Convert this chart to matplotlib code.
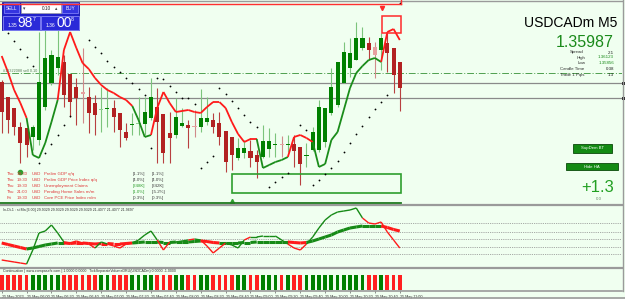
import numpy as np
import matplotlib
matplotlib.use('Agg')
import matplotlib.pyplot as plt
from matplotlib.patches import Rectangle
from matplotlib.collections import LineCollection

plt.rcParams['font.family'] = ['Liberation Sans', 'DejaVu Sans']

# ---------------- data ----------------
open_ = [1.35993, 1.35978, 1.35967, 1.35948, 1.35947, 1.35938, 1.35935, 1.35968, 1.35992, 1.36007,
         1.36013, 1.36001, 1.35988, 1.35983, 1.35978, 1.35972, 1.35965, 1.35966, 1.35967, 1.35962,
         1.35943, 1.35950, 1.35951, 1.35951, 1.35957, 1.35968, 1.35961, 1.35942, 1.35940, 1.35949,
         1.35950, 1.35949, 1.35948, 1.35953, 1.35955, 1.35952, 1.35944, 1.35938, 1.35917, 1.35922,
         1.35924, 1.35920, 1.35918, 1.35926, 1.35930, 1.35931, 1.35930, 1.35931, 1.35928, 1.35919,
         1.35925, 1.35925, 1.35933, 1.35962, 1.35970, 1.35992, 1.36007, 1.36015, 1.36027, 1.36032,
         1.36028, 1.36025, 1.36032, 1.36027, 1.36013]
high = [1.35995, 1.35978, 1.35967, 1.35953, 1.35947, 1.35950, 1.36043, 1.36045, 1.36025, 1.36045,
        1.36020, 1.36001, 1.35997, 1.36027, 1.35988, 1.35980, 1.35988, 1.35987, 1.35975, 1.35962,
        1.35952, 1.35962, 1.35978, 1.35978, 1.35997, 1.35987, 1.35961, 1.35963, 1.35977, 1.35967,
        1.35955, 1.35965, 1.35986, 1.35978, 1.35962, 1.35963, 1.35944, 1.35938, 1.35937, 1.35935,
        1.35935, 1.35925, 1.35950, 1.35947, 1.35942, 1.35939, 1.35940, 1.35940, 1.35928, 1.35932,
        1.35948, 1.35975, 1.35967, 1.36007, 1.36013, 1.36033, 1.36037, 1.36053, 1.36048, 1.36038,
        1.36033, 1.36042, 1.36042, 1.36027, 1.36013]
low = [1.35942, 1.35942, 1.35940, 1.35912, 1.35918, 1.35925, 1.35930, 1.35965, 1.35990, 1.36000,
       1.35968, 1.35958, 1.35950, 1.35952, 1.35942, 1.35940, 1.35943, 1.35948, 1.35943, 1.35928,
       1.35935, 1.35940, 1.35940, 1.35940, 1.35955, 1.35912, 1.35912, 1.35912, 1.35937, 1.35948,
       1.35927, 1.35938, 1.35943, 1.35950, 1.35942, 1.35930, 1.35903, 1.35905, 1.35915, 1.35917,
       1.35908, 1.35897, 1.35917, 1.35918, 1.35918, 1.35918, 1.35923, 1.35908, 1.35890, 1.35908,
       1.35924, 1.35923, 1.35928, 1.35960, 1.35968, 1.35992, 1.35998, 1.36015, 1.36025, 1.36015,
       1.35997, 1.36005, 1.36003, 1.35982, 1.35964]
close = [1.35963, 1.35955, 1.35948, 1.35932, 1.35930, 1.35948, 1.35993, 1.36017, 1.36020, 1.36018,
         1.35980, 1.35973, 1.35977, 1.35981, 1.35962, 1.35960, 1.35966, 1.35967, 1.35958, 1.35945,
         1.35937, 1.35951, 1.35952, 1.35963, 1.35978, 1.35953, 1.35922, 1.35937, 1.35958, 1.35952,
         1.35947, 1.35948, 1.35957, 1.35957, 1.35948, 1.35938, 1.35913, 1.35920, 1.35927, 1.35927,
         1.35917, 1.35913, 1.35934, 1.35934, 1.35931, 1.35930, 1.35931, 1.35924, 1.35911, 1.35920,
         1.35943, 1.35968, 1.35967, 1.35988, 1.36013, 1.36023, 1.36022, 1.36037, 1.36037, 1.36025,
         1.36020, 1.36037, 1.36022, 1.36000, 1.35987]
pale_candles = [13, 16, 22, 31, 45, 60]

ma_line = [1.36019, 1.36003, 1.35985, 1.35972, 1.35957, 1.35920, 1.35917, 1.35932, 1.35953, 1.35975,
           1.36025, 1.36043, 1.36027, 1.36012, 1.36006, 1.35997, 1.35990, 1.35985, 1.35982, 1.35978,
           1.35975, 1.35969, 1.35955, 1.35938, 1.35940, 1.35967, 1.35983, 1.35972, 1.35963, 1.35964,
           1.35965, 1.35963, 1.35962, 1.35968, 1.35973, 1.35973, 1.35967, 1.35953, 1.35941, 1.35933,
           1.35936, 1.35936, 1.35907, 1.35910, 1.35913, 1.35915, 1.35918, 1.35938, 1.35940, 1.35937,
           1.35933, 1.35908, 1.35911, 1.35935, 1.35943, 1.35965, 1.35987, 1.36002, 1.36009, 1.36015,
           1.36017, 1.36013, 1.36043, 1.36046, 1.36035]
ma_trend = "R" * 4 + "G" * 5 + "R" * 12 + "G" * 3 + "R" * 17 + "G" * 5 + "R" * 4 + "G" * 11 + "R" * 3

N = None
sar = [N, 1.36042, 1.36034, 1.36026, 1.36018, 1.36009, 1.35912, 1.35922, 1.35931, 1.35940,
       1.35950, 1.35959, N, N, 1.36035, 1.36028, 1.36022, 1.36014, 1.36008, 1.36003,
       1.35997, 1.35992, 1.35986, 1.35980, 1.35927, 1.35997, 1.35996, 1.35989, 1.35983, 1.35977,
       1.35977, 1.35971, 1.35907, 1.35913, 1.35919, 1.35987, 1.35981, 1.35974, 1.35967, 1.35960,
       1.35953, 1.35948, N, 1.35888, 1.35893, 1.35898, 1.35902, N, 1.35950, 1.35945,
       1.35890, 1.35895, 1.35901, 1.35907, 1.35914, 1.35923, 1.35932, 1.35941, 1.35949, 1.35958,
       1.35966, 1.35973, 1.35980, N, 1.36072]

ind_thin = [7, 6, 5, 4, 3, 17, 34, 36, 42, 34, 25, 24, 26, 24, 23, 19, 25, 23, 21, 19,
            23, 24, 27, 32, 36, 27, 17, 25, 25, 26, 27, 28, 27, 21, 14, 19, 24, 22, 19, 27,
            30, 30, 31, 31, 31, 27, 23, 19, 17, 23, 30, 39, 47, 52, 55, 56, 57, 59, 49, 44,
            43, 45, 35, 27, 19]
thin_trend = ("R" * 4 + "G" * 6 + "R" * 5 + "G" * 2 + "R" * 4 + "G" * 4 + "R" * 2 + "G" * 3 + "R" +
              "G" + "R" * 4 + "G" * 3 + "R" + "G" * 6 + "R" * 3 + "G" * 9 + "R" * 6)
ind_thick = [24, 22.5, 21, 19.5, 18, 19, 20.5, 22, 23, 24, 24, 23.5, 24, 24, 23.5, 23, 23.5, 23.5, 23, 23,
             23.5, 24, 24.5, 25, 25, 25, 24.5, 24.5, 25, 25, 25, 25.5, 26, 25.5, 24.5, 24, 24, 24, 24, 24.5,
             24.5, 25, 25, 25, 25, 25, 25, 24.5, 24, 24.5, 26, 28, 30, 32, 35, 37, 39, 40, 41, 41,
             41, 41, 39.5, 37.5, 36]
thick_trend = "R" * 4 + "G" * 6 + "R" * 11 + "G" * 11 + "R" * 3 + "G" * 11 + "R" * 3 + "G" * 12 + "R" * 3
ind_levels = [44, 35, 28, 20, 13]

volume = [1] * 65

tick_idx = list(range(0, 65, 4))
tick_labels = ["25 May 2023", "25 May 06:00", "25 May 06:20", "25 May 06:40", "25 May 07:00",
               "25 May 07:20", "25 May 07:40", "25 May 08:00", "25 May 08:20", "25 May 08:40",
               "25 May 09:00", "25 May 09:20", "25 May 09:40", "25 May 10:00", "25 May 10:20",
               "25 May 10:40", "25 May 11:00"]

level_order = 1.36002
level_grey = [1.35992, 1.35977]
zone_demand = (37.0, 64.2, 1.35882, 1.35901)
zone_supply = (61.1, 64.2, 1.36042, 1.36059)

news_day = ["Thu", "Thu", "Thu", "Thu", "Fri"]
news_time = ["19:30", "19:30", "19:30", "21:00", "19:30"]
news_event = ["Prelim GDP q/q", "Prelim GDP Price Index q/q", "Unemployment Claims",
              "Pending Home Sales m/m", "Core PCE Price Index m/m"]
news_actual = ["[1.1%]", "[4.0%]", "[248K]", "[1.0%]", "[0.3%]"]
news_prev = ["[1.1%]", "[4.0%]", "[242K]", "[-5.2%]", "[0.3%]"]
news_actual_good = [False, False, True, True, False]

# ---------------- figure ----------------
W, H = 625, 299
BG = '#f0fff0'
fig = plt.figure(figsize=(W / 100, H / 100), dpi=100)
fig.patch.set_facecolor(BG)

X0, DX, XR = 1.7, 6.22, 622
xlim = (-X0 / DX, (XR - X0) / DX)
n = len(open_)
xs = np.arange(n)


def fx(x):
    return x / W


def fy(y):
    return 1 - y / H


GREEN, RED = '#008000', '#b22222'

# main price panel
ax = fig.add_axes([0, fy(204), fx(XR), 204 / H])
ax.set_facecolor(BG)
ax.set_xlim(*xlim)
ax.set_ylim(1.35871, 1.36075)
ax.axis('off')

ax.axhline(level_order, color='#50a050', lw=0.7, ls=(0, (7, 2, 1, 2)), zorder=1)
for lv in level_grey:
    ax.axhline(lv, color='#8a8a8a', lw=0.9, zorder=1)

for i in range(n):
    o, h, l, c = open_[i], high[i], low[i], close[i]
    up = c >= o
    pale = i in pale_candles
    if up:
        body = '#8fd08f' if pale else GREEN
        wick = '#7cc47c'
    else:
        body = '#e6a0a0' if pale else RED
        wick = '#d08a8a' if pale else '#b84040'
    ax.vlines(i, l, h, color=wick, lw=0.8, zorder=2)
    hgt = c - o
    if abs(hgt) < 1.2e-5:
        hgt = 1.2e-5 if up else -1.2e-5
    ax.bar(i, hgt, bottom=o, width=0.66, color=body, lw=0, zorder=3)

segs, cols = [], []
for j in range(n - 1):
    segs.append([(j, ma_line[j]), (j + 1, ma_line[j + 1])])
    cols.append('#ff1a1a' if ma_trend[j] == 'R' else '#1a8c1a')
ax.add_collection(LineCollection(segs, colors=cols, linewidths=1.3, zorder=4))

sx = [i for i in range(n) if sar[i] is not None]
sy = [sar[i] for i in sx]
ax.plot(sx, sy, 'o', ms=1.3, color='black', mew=0, zorder=5)

dz = zone_demand
ax.add_patch(Rectangle((dz[0], dz[2]), dz[1] - dz[0], dz[3] - dz[2], fill=False,
                       ec='#2e9e2e', lw=1.2, zorder=4))
sz = zone_supply
ax.add_patch(Rectangle((sz[0], sz[2]), sz[1] - sz[0], sz[3] - sz[2], fill=False,
                       ec='#ff2a2a', lw=1.1, zorder=4))
ax.plot([sz[0]], [1.36067], marker='v', ms=3, color='#ff2a2a', zorder=5)
ax.plot([dz[0]], [1.35874], marker='^', ms=3, color='#2e9e2e', zorder=5)
ax.plot([3], [1.35903], marker='o', ms=3, color='#2e9e2e', zorder=5)

# indicator panel
ax2 = fig.add_axes([0, fy(267), fx(XR), 62 / H])
ax2.set_facecolor(BG)
ax2.set_xlim(*xlim)
ax2.set_ylim(0, 62)
ax2.axis('off')
for lv in ind_levels:
    ax2.axhline(lv, color='#8c8c8c', lw=0.6, ls=(0, (1, 1.2)))
segs, cols = [], []
for j in range(n - 1):
    segs.append([(j, ind_thick[j]), (j + 1, ind_thick[j + 1])])
    cols.append('#ff1a1a' if thick_trend[j] == 'R' else '#168a16')
ax2.add_collection(LineCollection(segs, colors=cols, linewidths=2.2))
segs, cols = [], []
for j in range(n - 1):
    segs.append([(j, ind_thin[j]), (j + 1, ind_thin[j + 1])])
    cols.append('#ff1a1a' if thin_trend[j] == 'R' else '#168a16')
ax2.add_collection(LineCollection(segs, colors=cols, linewidths=1.0))

# volume panel
ax3 = fig.add_axes([0, fy(290), fx(XR), 22 / H])
ax3.set_facecolor(BG)
ax3.set_xlim(*xlim)
ax3.set_ylim(0, 1.47)
vcol = ['#008000' if close[i] >= open_[i] else '#ff2020' for i in range(n)]
ax3.bar(xs, volume, width=0.6, color=vcol, lw=0)
for s in ax3.spines.values():
    s.set_visible(False)
ax3.set_yticks([])
ax3.set_xticks(tick_idx)
ax3.set_xticklabels(tick_labels, fontsize=2.7, color='#303030')
ax3.tick_params(axis='x', length=2, width=0.5, color='#606060', pad=1.5)
for lbl in ax3.get_xticklabels():
    lbl.set_ha('left')

# ---------------- overlay decorations ----------------
ov = fig.add_axes([0, 0, 1, 1])
ov.set_xlim(0, W)
ov.set_ylim(H, 0)
ov.axis('off')
ov.patch.set_alpha(0)

grey = '#9a9a9a'
ov.plot([0, XR], [1, 1], color=grey, lw=1)
ov.plot([0, 401], [4, 4], color='#ff3030', lw=1)
ov.plot([401, 401], [0, 4], color='#ff3030', lw=1)
ov.plot([0, XR], [204.8, 204.8], color=grey, lw=1.6)
ov.plot([0, 401], [203.3, 203.3], color='#1f7a1f', lw=1.3)
ov.plot([0, XR], [267.5, 267.5], color=grey, lw=1.6)
ov.plot([0, XR], [290.5, 290.5], color=grey, lw=1.2)
ov.plot([0, W], [298, 298], color=grey, lw=1.2)
ov.plot([XR + 0.5, XR + 0.5], [0, 290.5], color=grey, lw=1)
for yy in (83, 98):
    ov.add_patch(Rectangle((622, yy - 1.5), 3, 3, color='#202020', lw=0))

# trade panel
ov.add_patch(Rectangle((2, 2), 77, 28, fc='#2020c8', ec='#1010a0', lw=0.6))
ov.add_patch(Rectangle((3.5, 3), 15.5, 10, fc='#3535e0', ec='#8c8cff', lw=0.5))
ov.text(11.2, 8.2, 'SELL', color='white', fontsize=3.4, ha='center', va='center')
ov.add_patch(Rectangle((20.5, 3), 40, 10, fc='white', ec='#a0a0a0', lw=0.5))
ov.text(24, 8.2, '▾', color='#404040', fontsize=3.4, ha='center', va='center',
        family=['DejaVu Sans'])
ov.text(50.5, 8.2, '0.10', color='#202020', fontsize=3.4, ha='right', va='center')
ov.text(56.5, 8.2, '▴', color='#404040', fontsize=3.4, ha='center', va='center',
        family=['DejaVu Sans'])
ov.add_patch(Rectangle((62, 3), 16, 10, fc='#3535e0', ec='#8c8cff', lw=0.5))
ov.text(70, 8.2, 'BUY', color='white', fontsize=3.4, ha='center', va='center')
ov.add_patch(Rectangle((3, 15.5), 36.5, 14, fc='#2a2ad8', ec='#9a9aff', lw=0.5))
ov.add_patch(Rectangle((41, 15.5), 37.5, 14, fc='#2a2ad8', ec='#9a9aff', lw=0.5))
ov.text(12.5, 25.5, '1.35', color='white', fontsize=3.6, ha='center', va='center')
ov.text(25.5, 23.3, '98', color='white', fontsize=10, ha='center', va='center')
ov.text(34, 19.2, '7', color='white', fontsize=3.8, ha='center', va='center')
ov.text(50.5, 25.5, '1.36', color='white', fontsize=3.6, ha='center', va='center')
ov.text(64, 23.3, '00', color='white', fontsize=10, ha='center', va='center')
ov.text(72.5, 19.2, '8', color='white', fontsize=3.8, ha='center', va='center')

ov.text(3, 70.8, '#12322088 sell 0.10', color='#5a7a5a', fontsize=2.7, va='center')

# symbol info (right)
ov.text(617, 23, 'USDCADm M5', color='black', fontsize=10, ha='right', va='center')
ov.text(613.5, 42.5, '1.35987', color='#1a8a1a', fontsize=11.5, ha='right', va='center')
info = [('Spread', '2.1', 52.5, '#202020'), ('High', '1.36123', 57.5, '#1a8a1a'),
        ('Low', '1.35856', 63, '#1a8a1a'), ('Candle Time', '0:38', 69, '#202020'),
        ('Trade 1 Pips', '1.3', 75, '#202020')]
for lab, val, yy, vc in info:
    if lab in ('High', 'Low'):
        ov.text(585.5, yy, lab, color='#303030', fontsize=3.2, ha='right', va='center')
    else:
        ov.text(584, yy, lab, color='#303030', fontsize=3.2, ha='right', va='center')
    ov.text(614, yy, val, color=vc, fontsize=3.2, ha='right', va='center')

ov.add_patch(Rectangle((573, 144), 39, 8.5, fc='#128a12', ec='#0a4a0a', lw=0.6))
ov.text(592.5, 148.3, 'SupDem BT', color='white', fontsize=3.1, ha='center', va='center')
ov.add_patch(Rectangle((566, 163), 52, 7, fc='#128a12', ec='#0a4a0a', lw=0.6))
ov.text(592, 166.5, 'Hide HA', color='white', fontsize=3.1, ha='center', va='center')
ov.text(613.5, 188, '+1.3', color='#22a022', fontsize=12, ha='right', va='center')
ov.text(598.5, 199.5, '0.0', color='#6a8a6a', fontsize=3.2, ha='center', va='center')

# news
rows_y = [174, 180, 186, 192, 198]
for k, yy in enumerate(rows_y):
    ov.text(7, yy, news_day[k], color='#e03a3a', fontsize=3.2, va='center')
    ov.text(17, yy, news_time[k], color='#e03a3a', fontsize=3.2, va='center')
    ov.text(32, yy, 'USD', color='#e03a3a', fontsize=3.2, va='center')
    ov.text(44, yy, news_event[k], color='#e03a3a', fontsize=3.2, va='center')
    ov.text(133, yy, news_actual[k], color='#2e9e2e' if news_actual_good[k] else '#404040',
            fontsize=3.2, va='center')
    ov.text(152, yy, news_prev[k], color='#404040', fontsize=3.2, va='center')

ov.text(3, 209.5, 'In-Di-1 : si Ma [6.00] 29.9329 29.9329 29.9329 29.9329 21.4077 21.4077 21.9697',
        color='#303030', fontsize=2.6, va='center')
ov.text(3, 271.3, 'Continuation | www.compassfx.com | 1.0000 0.0000   '
        'TickSeparateVolumeDRU(USDCADm) 0.0000 -1.0000', color='#303030', fontsize=2.6, va='center')

fig.savefig('out.png', dpi=100, facecolor=BG)
